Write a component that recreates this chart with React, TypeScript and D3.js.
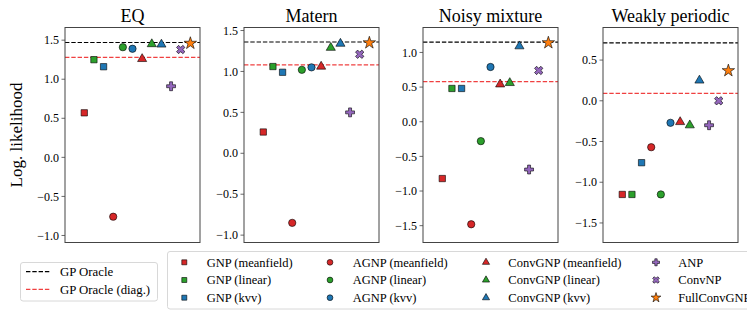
import * as d3 from "d3";

// model names, in plotting order
const models = [
  "GNP (meanfield)", "GNP (linear)", "GNP (kvv)",
  "AGNP (meanfield)", "AGNP (linear)", "AGNP (kvv)",
  "ConvGNP (meanfield)", "ConvGNP (linear)", "ConvGNP (kvv)",
  "ANP", "ConvNP", "FullConvGNP",
];
const modelColors = [
  "#d62728", "#2ca02c", "#1f77b4",
  "#d62728", "#2ca02c", "#1f77b4",
  "#d62728", "#2ca02c", "#1f77b4",
  "#9467bd", "#9467bd", "#ff7f0e",
];
const modelShapes = [
  "square", "square", "square",
  "circle", "circle", "circle",
  "triangle", "triangle", "triangle",
  "plus", "cross", "star",
];

const panelTitles = ["EQ", "Matern", "Noisy mixture", "Weakly periodic"];

const eqValues = [0.57, 1.25, 1.16, -0.76, 1.41, 1.39, 1.26, 1.45, 1.445, 0.91, 1.38, 1.46];
const maternValues = [0.26, 1.06, 0.99, -0.85, 1.02, 1.05, 1.06, 1.29, 1.34, 0.5, 1.21, 1.35];
const noisyValues = [-0.82, 0.48, 0.48, -1.48, -0.28, 0.79, 0.54, 0.56, 1.09, -0.69, 0.74, 1.14];
const weaklyValues = [-1.15, -1.15, -0.76, -0.57, -1.15, -0.27, -0.26, -0.3, 0.25, -0.3, 0.0, 0.37];
const panelValues = [eqValues, maternValues, noisyValues, weaklyValues];

const oracle = [1.47, 1.36, 1.15, 0.71];
const oracleDiag = [1.28, 1.08, 0.58, 0.09];

const yLimits: [number, number][] = [[-1.09, 1.662], [-1.09, 1.537], [-1.743, 1.36], [-1.74, 0.9]];
const yTicks = [
  [-1.0, -0.5, 0.0, 0.5, 1.0, 1.5],
  [-1.0, -0.5, 0.0, 0.5, 1.0, 1.5],
  [-1.5, -1.0, -0.5, 0.0, 0.5, 1.0],
  [-1.5, -1.0, -0.5, 0.0, 0.5],
];

const W = 747;
const H = 312;
const panelLeft = [65, 244, 423, 603];
const panelW = 135;
const panelTop = 27.5;
const panelBottom = 242.5;
const font = "'Liberation Serif', 'DejaVu Serif', serif";

function symbolPath(shape: string, size: number): string {
  const type =
    shape === "square" ? d3.symbolSquare :
    shape === "circle" ? d3.symbolCircle :
    shape === "triangle" ? d3.symbolTriangle :
    shape === "star" ? d3.symbolStar :
    d3.symbolCross;
  return d3.symbol().type(type).size(size)() || "";
}

function sizeFor(shape: string, legend: boolean): number {
  const base =
    shape === "square" ? 40 :
    shape === "circle" ? 42 :
    shape === "triangle" ? 36 :
    shape === "star" ? 48 : 44;
  return legend ? base * 0.62 : base;
}

function Marker(props: { shape: string; color: string; x: number; y: number; legend?: boolean }) {
  const { shape, color, x, y, legend } = props;
  const rot = shape === "cross" ? 45 : 0;
  return (
    <path
      d={symbolPath(shape, sizeFor(shape, !!legend))}
      transform={`translate(${x},${y}) rotate(${rot})`}
      fill={color}
      stroke="#000"
      strokeWidth={0.6}
    />
  );
}

const fmt = (v: number) => (v < 0 ? "\u2212" : "") + Math.abs(v).toFixed(1);

function Panel(props: { i: number }) {
  const { i } = props;
  const x0 = panelLeft[i];
  const x = d3.scaleLinear().domain([-2, 12]).range([x0, x0 + panelW]);
  const y = d3.scaleLinear().domain(yLimits[i]).range([panelBottom, panelTop]);
  const vals = panelValues[i];
  return (
    <g>
      <text x={x0 + panelW / 2} y={22} textAnchor="middle" fontFamily={font} fontSize={18}>
        {panelTitles[i]}
      </text>
      <line x1={x0} x2={x0 + panelW} y1={y(oracleDiag[i])} y2={y(oracleDiag[i])}
        stroke="#f04040" strokeWidth={1.2} strokeDasharray="4.4,1.9" />
      <line x1={x0} x2={x0 + panelW} y1={y(oracle[i])} y2={y(oracle[i])}
        stroke="#000" strokeWidth={1.2} strokeDasharray="4.4,1.9" />
      {vals.map((v, k) => (
        <Marker key={k} shape={modelShapes[k]} color={modelColors[k]} x={x(k)} y={y(v)} />
      ))}
      <rect x={x0} y={panelTop} width={panelW} height={panelBottom - panelTop}
        fill="none" stroke="#444" strokeWidth={1} />
      {yTicks[i].map((t) => (
        <g key={t}>
          <line x1={x0 - 3.5} x2={x0} y1={y(t)} y2={y(t)} stroke="#444" strokeWidth={0.8} />
          <text x={x0 - 6} y={y(t)} dy="0.35em" textAnchor="end" fontFamily={font} fontSize={12}>
            {fmt(t)}
          </text>
        </g>
      ))}
    </g>
  );
}

const legendColX = [184.3, 330, 486, 656];
const legendTextX = [206.7, 352.7, 508.3, 678.3];
const legendRowY = [262.3, 280, 297.7];

export default function App() {
  return (
    <svg width={W} height={H} style={{ position: "absolute", left: 0, top: 0, background: "#fff" }}>
      <rect width={W} height={H} fill="#fff" />
      <text transform={`translate(22,${(panelTop + panelBottom) / 2}) rotate(-90)`}
        textAnchor="middle" fontFamily={font} fontSize={17}>
        Log. likelihood
      </text>
      {panelTitles.map((_, i) => <Panel key={i} i={i} />)}

      {/* oracle legend */}
      <rect x={20.5} y={262.5} width={137} height={38.5} rx={2.5} fill="#fff" stroke="#d8d8d8" strokeWidth={1} />
      <line x1={26} x2={50} y1={271.7} y2={271.7} stroke="#000" strokeWidth={1.2} strokeDasharray="4.4,1.9" />
      <text x={60} y={271.7} dy="0.35em" fontFamily={font} fontSize={12.8}>GP Oracle</text>
      <line x1={26} x2={50} y1={289.3} y2={289.3} stroke="#f04040" strokeWidth={1.2} strokeDasharray="4.4,1.9" />
      <text x={60} y={289.3} dy="0.35em" fontFamily={font} fontSize={12.8}>GP Oracle (diag.)</text>

      {/* model legend */}
      <rect x={167.5} y={251.5} width={640} height={57.5} rx={2.5} fill="#fff" stroke="#d8d8d8" strokeWidth={1} />
      {models.map((m, k) => {
        const col = Math.floor(k / 3);
        const row = k % 3;
        return (
          <g key={m}>
            <Marker shape={modelShapes[k]} color={modelColors[k]} x={legendColX[col]} y={legendRowY[row]} legend />
            <text x={legendTextX[col]} y={legendRowY[row]} dy="0.35em" fontFamily={font} fontSize={12.5}>{m}</text>
          </g>
        );
      })}
    </svg>
  );
}
